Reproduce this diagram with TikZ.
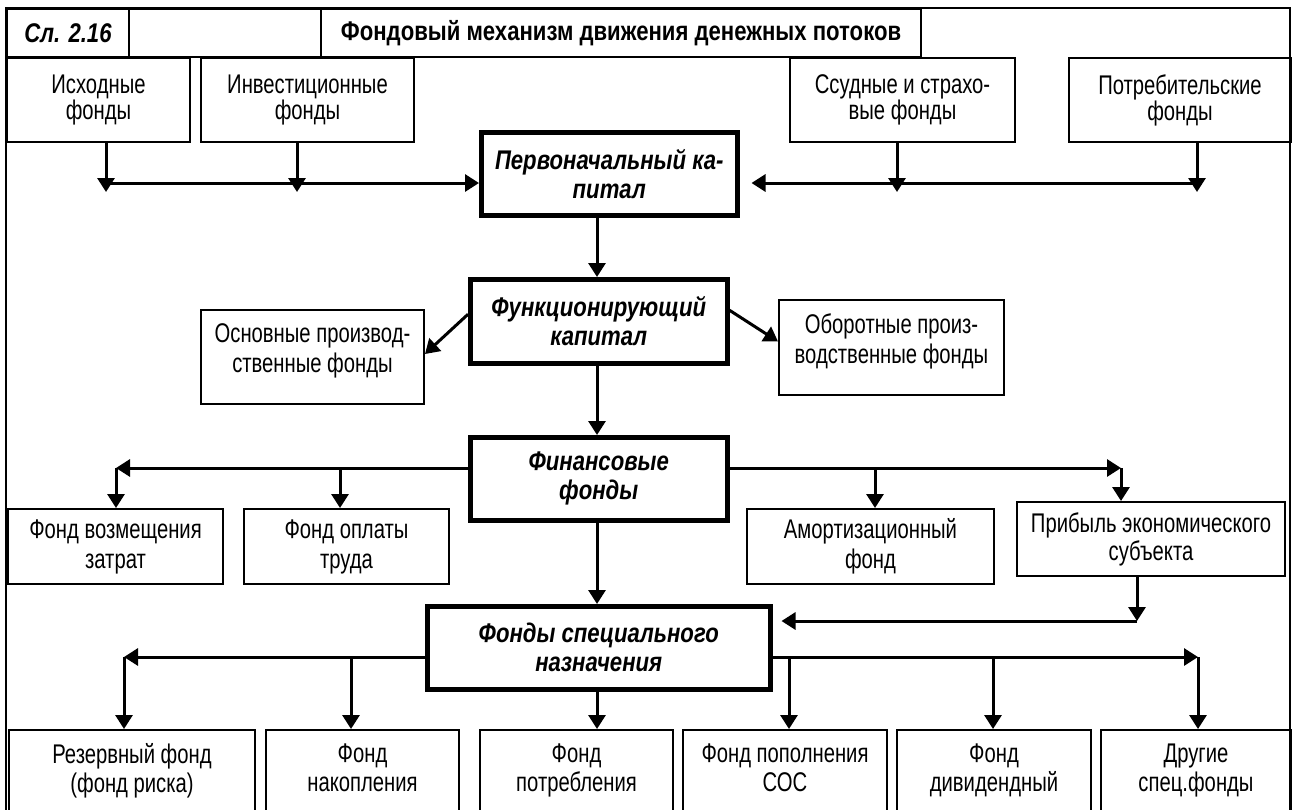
\documentclass[tikz,border=0pt]{standalone}
\usepackage{fontspec}
\setmainfont{Liberation Sans}[FakeStretch=0.75,BoldFeatures={FakeStretch=0.82},BoldItalicFeatures={FakeStretch=0.82}]
\usetikzlibrary{arrows.meta,calc}
\begin{document}
\begin{tikzpicture}[x=1pt,y=-1pt,
  every node/.style={font=\fontsize{27}{28}\selectfont, align=center, inner sep=0pt, anchor=north west},
  box/.style={draw, line width=2pt, rectangle},
  tbox/.style={draw, line width=4.5pt, rectangle, font=\fontsize{27}{29}\selectfont\bfseries\itshape},
  arr/.style={line width=3pt, -{Triangle[width=17pt,length=14pt]}},
]
\useasboundingbox (0,0) rectangle (1295,809);
\clip (0,0) rectangle (1295,809);
\fill[white] (0,0) rectangle (1295,809);
% outer frame
\draw[line width=2pt] (6,8) rectangle (1290,840);
% header
\node[box, minimum width=122, minimum height=48, font=\fontsize{27}{28}\selectfont\bfseries\itshape] (sl) at (6,8) {Сл. 2.16};
\node[box, minimum width=192, minimum height=48] (emp) at (128,8) {};
\node[box, minimum width=600, minimum height=48, font=\fontsize{27}{28}\selectfont\bfseries] (title) at (320,8) {Фондовый механизм движения денежных потоков};
% row 1
\node[box, minimum width=183, minimum height=84, font=\fontsize{27}{26}\selectfont] (isx) at (6,57) {Исходные\\фонды};
\node[box, minimum width=213, minimum height=84, font=\fontsize{27}{26}\selectfont] (inv) at (200,57) {Инвестиционные\\фонды};
\node[box, minimum width=225, minimum height=84, font=\fontsize{27}{26}\selectfont] (ssu) at (789,57) {Ссудные и страхо-\\вые фонды};
\node[box, minimum width=222, minimum height=84, font=\fontsize{27}{26}\selectfont] (pot) at (1068,57) {Потребительские\\фонды};
% thick boxes
\node[tbox, minimum width=256, minimum height=83] (pk) at (479,130) {Первоначальный ка-\\питал};
\node[tbox, minimum width=257, minimum height=84] (fk) at (468,277) {Функционирующий\\капитал};
\node[tbox, minimum width=257, minimum height=83] (ff) at (468,435) {Финансовые\\фонды};
\node[tbox, minimum width=343, minimum height=83] (fs) at (425,604) {Фонды специального\\назначения};
% middle boxes
\node[box, minimum width=223, minimum height=94, font=\fontsize{27}{30}\selectfont] (osn) at (200,309) {Основные производ-\\ственные фонды\\[-12pt]\mbox{}};
\node[box, minimum width=225, minimum height=95, font=\fontsize{27}{30}\selectfont] (obo) at (778,299) {Оборотные произ-\\водственные фонды\\[-12pt]\mbox{}};
% row 3
\node[box, minimum width=215, minimum height=75, font=\fontsize{27}{30}\selectfont] (fv) at (7,508) {Фонд возмещения\\затрат};
\node[box, minimum width=205, minimum height=75, font=\fontsize{27}{30}\selectfont] (fo) at (243,508) {Фонд оплаты\\труда};
\node[box, minimum width=247, minimum height=75, font=\fontsize{27}{30}\selectfont] (am) at (746,508) {Амортизационный\\фонд};
\node[box, minimum width=268, minimum height=74, font=\fontsize{27}{28}\selectfont] (pr) at (1016,501) {Прибыль экономического\\субъекта};
% bottom row
\node[box, minimum width=246, minimum height=110, font=\fontsize{27}{29}\selectfont] (b1) at (8,729) {Резервный фонд\\(фонд риска)\\[5pt]\mbox{}};
\node[box, minimum width=193, minimum height=110, font=\fontsize{27}{29}\selectfont] (b2) at (265,729) {Фонд\\накопления\\[5pt]\mbox{}};
\node[box, minimum width=193, minimum height=110, font=\fontsize{27}{29}\selectfont] (b3) at (479,729) {Фонд\\потребления\\[5pt]\mbox{}};
\node[box, minimum width=204, minimum height=110, font=\fontsize{27}{29}\selectfont] (b4) at (682,729) {Фонд пополнения\\СОС\\[5pt]\mbox{}};
\node[box, minimum width=194, minimum height=110, font=\fontsize{27}{29}\selectfont] (b5) at (896,729) {Фонд\\дивидендный\\[5pt]\mbox{}};
\node[box, minimum width=190, minimum height=110, font=\fontsize{27}{29}\selectfont] (b6) at (1100,729) {Другие\\спец.фонды\\[5pt]\mbox{}};
% coordinates
\coordinate (ta) at (106,192);
\coordinate (tb) at (297,192);
\coordinate (tc) at (897,192);
\coordinate (td) at (1197,192);
\coordinate (hl) at (106,183);
\coordinate (hr) at (1197,183);
\coordinate (cx) at (597,0);
\coordinate (fl) at (116,468);
\coordinate (fr) at (1121,468);
\coordinate (c340) at (340,468);
\coordinate (c875) at (875,468);
\coordinate (pp) at (1137,621);
\coordinate (sl2) at (124,657);
\coordinate (sr) at (1198,657);
\coordinate (c351) at (351,657);
\coordinate (c789) at (789,657);
\coordinate (c993) at (993,657);
% top arrows
\draw[arr] (isx.south -| ta) -- (ta);
\draw[arr] (inv.south -| tb) -- (tb);
\draw[arr] (ssu.south -| tc) -- (tc);
\draw[arr] (pot.south -| td) -- (td);
\draw[arr] (hl) -- (hl -| pk.west);
\draw[arr, shorten >=12pt] (hr) -- (hr -| pk.east);
% vertical chain
\draw[arr] (pk.south -| cx) -- (fk.north -| cx);
\draw[arr] (fk.south -| cx) -- (ff.north -| cx);
\draw[arr] (ff.south -| cx) -- (fs.north -| cx);
\draw[arr] (fs.south -| cx) -- (b3.north -| cx);
% diagonals
\draw[arr] ($(fk.west)+(0,-7)$) -- ($(osn.east)+(0,-3)$);
\draw[arr] ($(fk.east)+(0,-11)$) -- ($(obo.west)+(0,-6)$);
% financial funds
\draw[arr] (fl -| ff.west) -- (fl);
\draw[arr] (fl) -- (fl |- fv.north);
\draw[arr] (c340) -- (c340 |- fo.north);
\draw[arr] (fr -| ff.east) -- (fr);
\draw[arr] (fr) -- (fr |- pr.north);
\draw[arr] (c875) -- (c875 |- am.north);
% profit to special funds
\draw[arr] (pr.south -| pp) -- (pp);
\draw[arr, shorten >=9pt] (pp) -- (pp -| fs.east);
% special funds
\draw[arr] (sl2 -| fs.west) -- (sl2);
\draw[arr] (sl2) -- (sl2 |- b1.north);
\draw[arr] (c351) -- (c351 |- b2.north);
\draw[arr] (sr -| fs.east) -- (sr);
\draw[arr] (c789) -- (c789 |- b4.north);
\draw[arr] (c993) -- (c993 |- b5.north);
\draw[arr] (sr) -- (sr |- b6.north);
\end{tikzpicture}
\end{document}
